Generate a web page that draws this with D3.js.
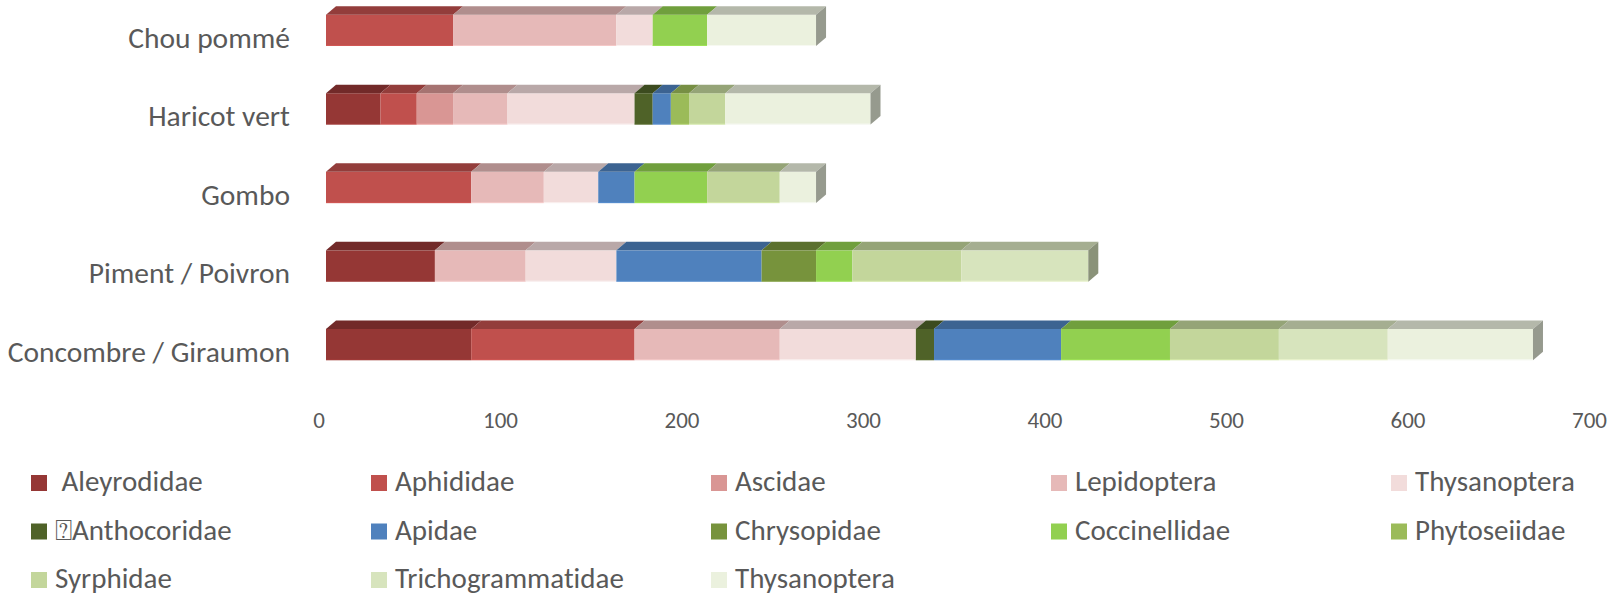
<!DOCTYPE html>
<html>
<head>
<meta charset="utf-8">
<script src="https://cdn.jsdelivr.net/npm/d3@7"></script>
<style>
  html, body { margin: 0; padding: 0; background: #ffffff; }
  svg { display: block; }
  text { font-family: Carlito, Calibri, Lato, sans-serif; fill: #595959; font-variant-ligatures: none; font-feature-settings: "liga" 0; }
</style>
</head>
<body>
<svg id="chart" width="1616" height="598"></svg>
<script>
// ---- data ----
const categories = ["Chou pommé", "Haricot vert", "Gombo", "Piment / Poivron", "Concombre / Giraumon"];
const seriesNames = [" Aleyrodidae", "Aphididae", "Ascidae", "Lepidoptera", "Thysanoptera",
  "\u2370Anthocoridae", "Apidae", "Chrysopidae", "Coccinellidae", "Phytoseiidae",
  "Syrphidae", "Trichogrammatidae", "Thysanoptera"];
const seriesColors = ["#953735", "#C0504D", "#D99694", "#E6B9B8", "#F2DCDB",
  "#4F6228", "#4F81BD", "#77933C", "#92D050", "#9BBB59",
  "#C3D69B", "#D7E4BD", "#EBF1DE"];
// values per series, in category order
const aleyrodidae       = [0, 30, 0, 60, 80];
const aphididae         = [70, 20, 80, 0, 90];
const ascidae           = [0, 20, 0, 0, 0];
const lepidoptera       = [90, 30, 40, 50, 80];
const thysanoptera      = [20, 70, 30, 50, 75];
const anthocoridae      = [0, 10, 0, 0, 10];
const apidae            = [0, 10, 20, 80, 70];
const chrysopidae       = [0, 0, 0, 30, 0];
const coccinellidae     = [30, 0, 40, 20, 60];
const phytoseiidae      = [0, 10, 0, 0, 0];
const syrphidae         = [0, 20, 40, 60, 60];
const trichogrammatidae = [0, 0, 0, 70, 60];
const thysanoptera2     = [60, 80, 20, 0, 80];
const tickValues = [0, 100, 200, 300, 400, 500, 600, 700];

const seriesValues = [aleyrodidae, aphididae, ascidae, lepidoptera, thysanoptera,
  anthocoridae, apidae, chrysopidae, coccinellidae, phytoseiidae,
  syrphidae, trichogrammatidae, thysanoptera2];

// table for d3.stack
const table = categories.map((c, ci) => {
  const row = { cat: c };
  seriesValues.forEach((vals, si) => { row["s" + si] = vals[ci]; });
  return row;
});
const keys = seriesValues.map((_, si) => "s" + si);
const stacked = d3.stack().keys(keys)(table);

// ---- layout ----
const svg = d3.select("#chart");
const x = d3.scaleLinear().domain([0, 700]).range([326, 326 + 700 * 1.815]);
const y = d3.scaleBand().domain(categories).range([14.7, 360.2]).paddingInner(0.6015).paddingOuter(0);
const DX = 10, DY = 8.5;

const g = svg.append("g");

categories.forEach((cat, ci) => {
  const y0 = y(cat), h = y.bandwidth();
  const segs = stacked.map((s, si) => ({ si, x0: s[ci][0], x1: s[ci][1] }))
    .filter(d => d.x1 - d.x0 > 0);
  const cg = g.append("g");
  segs.forEach(d => {
    const col = seriesColors[d.si];
    const xa = x(d.x0), xb = x(d.x1);
    cg.append("rect").attr("x", xa).attr("y", y0).attr("width", xb - xa).attr("height", h)
      .attr("fill", col);
    cg.append("line").attr("x1", xa).attr("x2", xb).attr("y1", y0 + h - 0.5).attr("y2", y0 + h - 0.5)
      .attr("stroke", d3.color(col).brighter(0.4)).attr("stroke-width", 1).attr("opacity", 0.6);
    cg.append("path")
      .attr("d", `M${xa},${y0} L${xa + DX},${y0 - DY} L${xb + DX},${y0 - DY} L${xb},${y0} Z`)
      .attr("fill", d3.color(col).darker(0.75));
  });
  const last = segs[segs.length - 1];
  const xe = x(last.x1);
  cg.append("path")
    .attr("d", `M${xe},${y0} L${xe + DX},${y0 - DY} L${xe + DX},${y0 + h - DY} L${xe},${y0 + h} Z`)
    .attr("fill", d3.color(seriesColors[last.si]).darker(1.25));
});

// category labels
g.selectAll("text.cat").data(categories).join("text")
  .attr("class", "cat")
  .attr("x", 290)
  .attr("y", d => y(d) + y.bandwidth() + 1.5)
  .attr("text-anchor", "end")
  .style("font-size", "29.5px")
  .text(d => d);

// x axis labels (no line)
const axis = d3.axisBottom(x).tickValues(tickValues).tickSize(0).tickPadding(0);
const ax = svg.append("g").attr("transform", "translate(-7.5,412)").call(axis);
ax.select(".domain").remove();
ax.selectAll("text").style("font-size", "23px").attr("fill", "#595959")
  .style("font-family", "Carlito, Calibri, Lato, sans-serif");

// legend
const leg = svg.append("g");
seriesNames.forEach((name, i) => {
  const col = i % 5, row = Math.floor(i / 5);
  const lx = 31 + col * 340, ly = 483 + row * 48.5;
  leg.append("rect").attr("x", lx).attr("y", ly - 8).attr("width", 16).attr("height", 16)
    .attr("fill", seriesColors[i]);
  leg.append("text").attr("x", lx + 24).attr("y", ly + 8)
    .style("font-size", "29px").style("white-space", "pre").attr("xml:space", "preserve")
    .text(name);
});
</script>
</body>
</html>
